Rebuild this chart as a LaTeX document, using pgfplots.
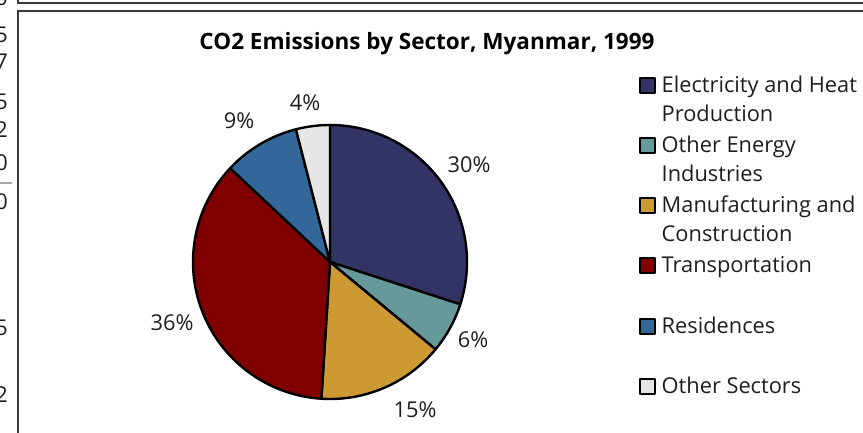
\documentclass[border=0pt]{standalone}
\usepackage{fontspec}
\setmainfont{Open Sans}
\usepackage{pgfplots}
\usepackage{pgfplotstable}
\pgfplotsset{compat=1.18}

\definecolor{cElec}{HTML}{333366}
\definecolor{cOthEn}{HTML}{669999}
\definecolor{cManuf}{HTML}{CC9933}
\definecolor{cTrans}{HTML}{800000}
\definecolor{cRes}{HTML}{336699}
\definecolor{cOther}{HTML}{E6E6E6}
\definecolor{frame}{HTML}{3A3A3A}
\definecolor{txt}{HTML}{1E1E1E}

\pgfplotstableread{
value color
30 cElec
6  cOthEn
15 cManuf
36 cTrans
9  cRes
4  cOther
}\piedata

\newcommand{\lblfont}{\fontsize{21.8bp}{29bp}\selectfont}
\newcommand{\LE}[2]{\parbox[t]{215bp}{\lblfont #1\\#2}}

\begin{document}
\begin{tikzpicture}
\begin{axis}[
  scale only axis,
  width=863bp, height=433bp,
  xmin=0, xmax=863, ymin=0, ymax=433,
  y dir=reverse,
  hide axis,
  clip=false,
  legend style={at={(axis cs:639,76)}, anchor=north west, draw=none, fill=none,
    inner sep=0pt, row sep=0pt, column sep=6bp,
    cells={anchor=base west},
    nodes={inner sep=0pt, text=txt, text height=16bp, text depth=44.2bp}},
  legend image code/.code={\draw[#1, draw=black, line width=2bp] (1bp,-0.5bp) rectangle (15.5bp,14.5bp);},
]
\pgfplotstablegetrowsof{\piedata}
\pgfmathtruncatemacro{\lastrow}{\pgfplotsretval-1}
\def\cum{0}
\pgfplotsforeachungrouped \i in {0,...,\lastrow}{%
  \pgfplotstablegetelem{\i}{value}\of\piedata \let\v\pgfplotsretval
  \pgfplotstablegetelem{\i}{color}\of\piedata \let\c\pgfplotsretval
  \pgfmathsetmacro\angA{90-3.6*(\cum+\v)}%
  \pgfmathsetmacro\angB{90-3.6*\cum}%
  \edef\doplot{\noexpand\addplot[fill=\c, draw=black, line width=2.4bp, line join=round, domain=\angA:\angB, samples=80] ({330+137*cos(x)},{262-137*sin(x)}) -- (axis cs:330,262) -- cycle;}%
  \doplot
  \pgfmathsetmacro\cum{\cum+\v}%
}
\legend{\LE{Electricity and Heat}{Production},
        \LE{Other Energy}{Industries},
        \LE{Manufacturing and}{Construction},
        \LE{Transportation}{},
        \LE{Residences}{},
        \LE{Other Sectors}{}}

% slice labels
\begin{scope}[every node/.style={font=\lblfont, text=txt, inner sep=0pt}]
\node at (axis cs:469,165) {30\%};
\node at (axis cs:473,340) {6\%};
\node at (axis cs:415,410) {15\%};
\node at (axis cs:172,323) {36\%};
\node at (axis cs:239,121) {9\%};
\node at (axis cs:305,103) {4\%};
\end{scope}

% title
\node[font=\fontsize{22.5bp}{26bp}\selectfont\bfseries, text=black, anchor=base] at (axis cs:427,49) {CO2 Emissions by Sector, Myanmar, 1999};

% frames
\draw[frame, line width=1.6bp] (axis cs:18,0) -- (axis cs:18,3) -- (axis cs:863,3);
\draw[frame, line width=1.6bp] (axis cs:18,433) -- (axis cs:18,11) -- (axis cs:863,11);
\draw[gray!70, line width=2.5bp] (axis cs:0,183) -- (axis cs:12,183);

% cut-off tick numbers of a neighbouring chart
\begin{scope}
\clip (axis cs:0,0) rectangle (axis cs:10,433);
\begin{scope}[every node/.style={font=\lblfont, text=txt, inner sep=0pt, anchor=east}]
\node at (axis cs:8,-2) {0};
\node at (axis cs:8,35) {5};
\node at (axis cs:8,62) {7};
\node at (axis cs:8,102) {5};
\node at (axis cs:8,130) {2};
\node at (axis cs:8,163) {0};
\node at (axis cs:8,202) {0};
\node at (axis cs:8,328) {5};
\node at (axis cs:8,395) {2};
\end{scope}
\end{scope}
\end{axis}
\pgfresetboundingbox
\path[use as bounding box] (0,0) rectangle (863bp,433bp);
\end{tikzpicture}
\end{document}
